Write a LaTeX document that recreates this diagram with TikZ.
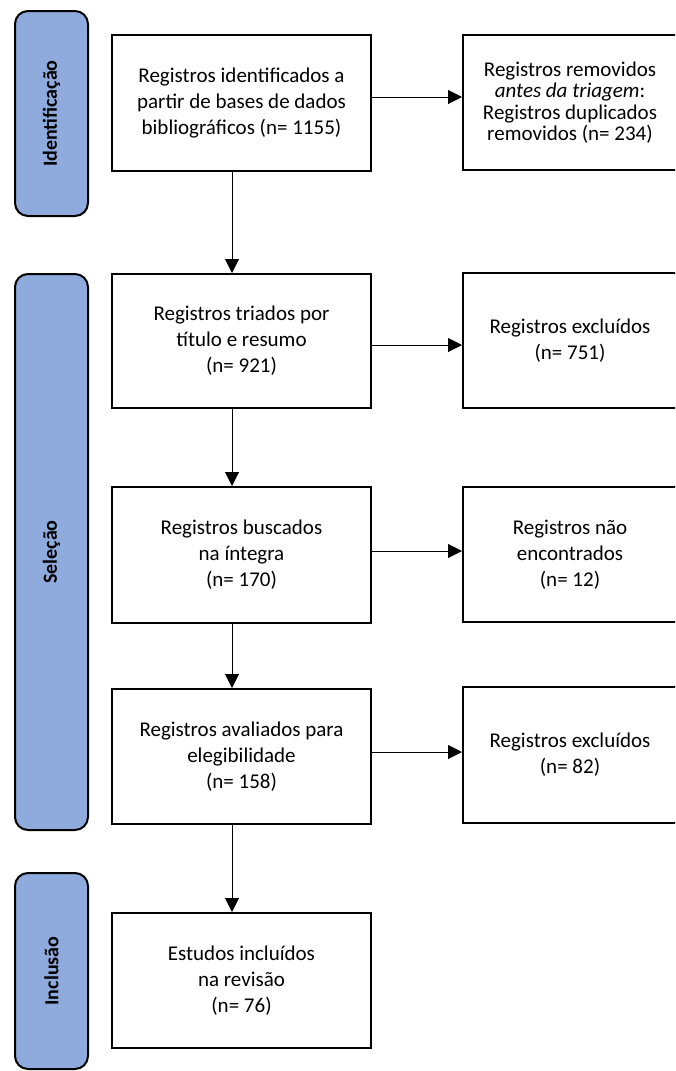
\documentclass[tikz,border=0pt]{standalone}
\usepackage{fontspec}
\setmainfont{Carlito}
\usetikzlibrary{arrows.meta}
\definecolor{phasefill}{RGB}{143,170,220}
\begin{document}
\begin{tikzpicture}[x=1pt,y=-1pt,
  box/.style={draw, line width=2pt, inner sep=0pt, align=center,
              font=\fontsize{21}{26}\selectfont},
  leftbox/.style={box, minimum width=259pt, execute at begin node={\rule{0pt}{21pt}}},
  rightbox/.style={box, minimum width=214pt, execute at begin node={\rule{0pt}{18.5pt}}},
  phase/.style={draw, line width=2pt, fill=phasefill, rounded corners=13pt,
                inner sep=0pt, minimum width=73pt, font=\fontsize{20}{24}\selectfont\bfseries},
  arr/.style={line width=1pt, -{Triangle[length=14pt,width=14pt]}}]
\clip (0,0) rectangle (675,1071);

% phase labels
\node[phase, minimum height=205pt] (p1) at (51.5,113.5) {\rotatebox{90}{Identificação}};
\node[phase, minimum height=556pt] (p2) at (51.5,552) {\rotatebox{90}{Seleção}};
\node[phase, minimum height=196pt] (p3) at (51.5,971) {\rotatebox{90}{Inclusão}};

% left column
\node[leftbox, minimum height=136pt] (b1) at (241.5,103)
  {Registros identificados a\\partir de bases de dados\\bibliográficos (n= 1155)};
\node[leftbox, minimum height=134pt] (b2) at (241.5,341)
  {Registros triados por\\título e resumo\\(n= 921)};
\node[leftbox, minimum height=136pt] (b3) at (241.5,555)
  {Registros buscados\\na íntegra\\(n= 170)};
\node[leftbox, minimum height=135pt] (b4) at (241.5,756.5)
  {Registros avaliados para\\elegibilidade\\(n= 158)};
\node[leftbox, minimum height=135pt] (b5) at (241.5,980.5)
  {Estudos incluídos\\na revisão\\(n= 76)};

% right column
\node[box, minimum width=214pt, minimum height=135pt, font=\fontsize{21}{21.5}\selectfont] (r1) at (570,102.5)
  {Registros removidos\\\textit{antes da triagem}:\\Registros duplicados\\removidos (n= 234)};
\node[rightbox, minimum height=135pt] (r2) at (570,340.5)
  {Registros excluídos\\(n= 751)};
\node[rightbox, minimum height=135pt] (r3) at (570,554.5)
  {Registros não\\encontrados\\(n= 12)};
\node[rightbox, minimum height=136pt] (r4) at (570,755)
  {Registros excluídos\\(n= 82)};

% connectors
\coordinate (ax) at (232,0);
\draw[arr] (b1.south -| ax) -- (b2.north -| ax);
\draw[arr] (b2.south -| ax) -- (b3.north -| ax);
\draw[arr] (b3.south -| ax) -- (b4.north -| ax);
\draw[arr] (b4.south -| ax) -- (b5.north -| ax);

\draw[arr] ([yshift=6pt]b1.east) -- ([yshift=6pt]b1.east -| r1.west);
\draw[arr] ([yshift=-4pt]b2.east) -- ([yshift=-4pt]b2.east -| r2.west);
\draw[arr] ([yshift=4pt]b3.east) -- ([yshift=4pt]b3.east -| r3.west);
\draw[arr] ([yshift=4.5pt]b4.east) -- ([yshift=4.5pt]b4.east -| r4.west);
\end{tikzpicture}
\end{document}
